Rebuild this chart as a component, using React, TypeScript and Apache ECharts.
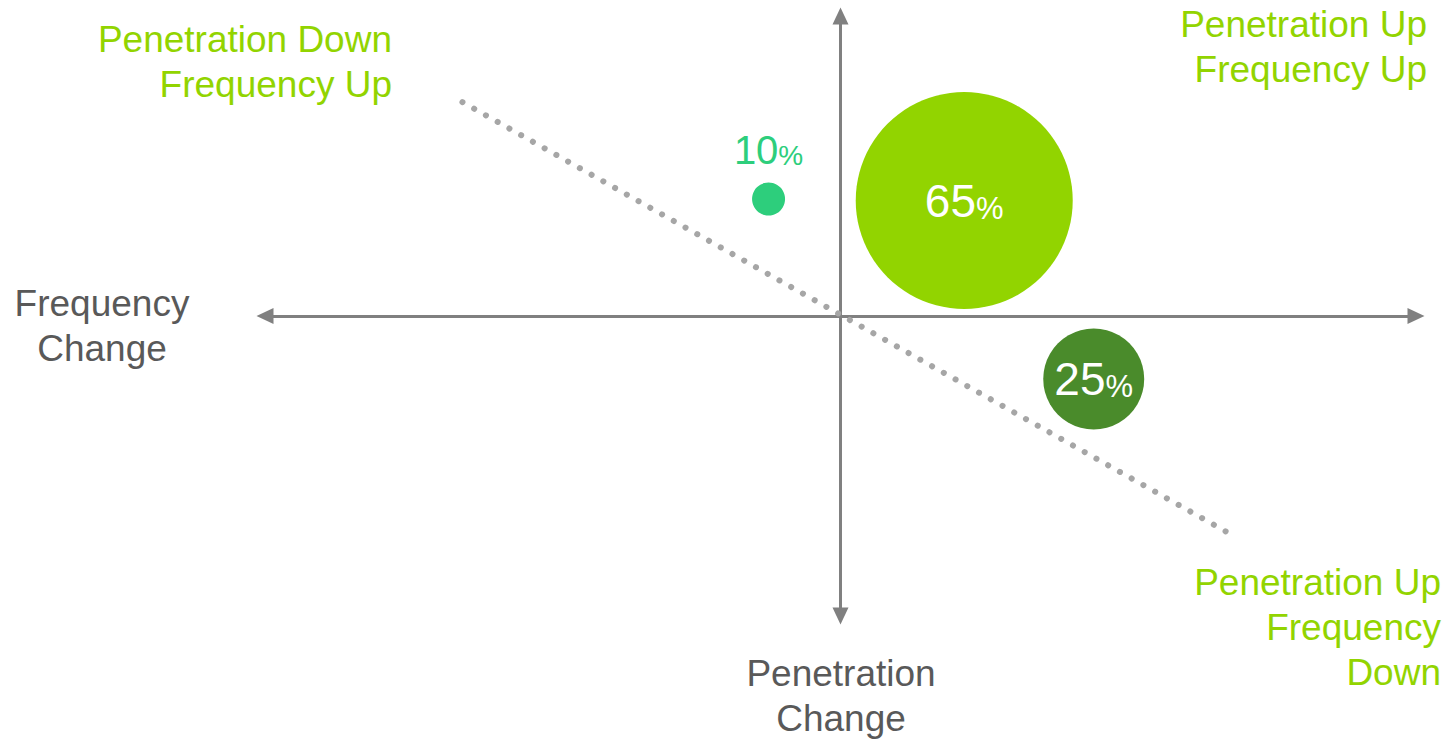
import React, { useEffect, useRef } from "react";
import * as echarts from "echarts";

// ---- data ----
const segmentNames = ["Penetration Down / Frequency Up", "Penetration Up / Frequency Up", "Penetration Up / Frequency Down"];
const frequencyChange = [-1.25, 2.15, 4.4];
const penetrationChange = [3.9, 3.85, -2.1];
const shares = [10, 65, 25];
const bubbleDiameters = [33, 217, 101];
const trendFrequency = [-6.57, 6.74];
const trendPenetration = [7.13, -7.23];

const quadrantLabels = {
  topLeft: ["Penetration Down", "Frequency Up"],
  topRight: ["Penetration Up", "Frequency Up"],
  bottomRight: ["Penetration Up", "Frequency", "Down"],
};
const xAxisTitle = ["Frequency", "Change"];
const yAxisTitle = ["Penetration", "Change"];

// ---- styles ----
const FONT = "'Liberation Sans', Arial, Helvetica, sans-serif";
const LIME = "#92d400";
const bubbleColors = ["#2dce7c", "#92d400", "#4a8b2b"];
const AXIS = "#808080";
const GRAY_TEXT = "#595959";

export default function App() {
  const ref = useRef<HTMLDivElement>(null);

  useEffect(() => {
    if (!ref.current) return;
    const chart = echarts.init(ref.current, undefined, { renderer: "svg" });

    const bubbleData = shares.map((s, i) => {
      const outside = i === 0;
      const numSize = outside ? 40 : 46;
      const pctSize = outside ? 28 : 31;
      const color = outside ? bubbleColors[0] : "#ffffff";
      return {
        name: segmentNames[i],
        value: [frequencyChange[i], penetrationChange[i], s],
        symbolSize: bubbleDiameters[i],
        itemStyle: { color: bubbleColors[i], opacity: 1 },
        label: {
          show: true,
          position: outside ? "top" : "inside",
          distance: outside ? 13 : 0,
          formatter: `{n|${s}}{p|%}`,
          rich: {
            n: {
              fontSize: numSize,
              fontFamily: FONT,
              color,
              verticalAlign: "bottom",
              lineHeight: numSize,
            },
            p: {
              fontSize: pctSize,
              fontFamily: FONT,
              color,
              verticalAlign: "bottom",
              lineHeight: numSize,
            },
          },
        },
      };
    });

    const textBlock = (
      lines: string[],
      x: number,
      y: number,
      align: "left" | "right" | "center",
      color: string
    ) => ({
      type: "text",
      x,
      y,
      silent: true,
      style: {
        text: lines.join("\n"),
        fill: color,
        font: `37px ${FONT}`,
        textAlign: align,
        textVerticalAlign: "middle",
        lineHeight: 45,
      },
    });

    chart.setOption({
      animation: false,
      grid: { left: 265, top: 16, width: 1151, height: 600, containLabel: false },
      xAxis: {
        type: "value",
        min: -10,
        max: 10,
        axisLine: {
          show: true,
          onZero: true,
          symbol: ["triangle", "triangle"],
          symbolSize: [16, 17],
          lineStyle: { color: AXIS, width: 3 },
        },
        axisTick: { show: false },
        axisLabel: { show: false },
        splitLine: { show: false },
      },
      yAxis: {
        type: "value",
        min: -10,
        max: 10,
        axisLine: {
          show: true,
          onZero: true,
          symbol: ["triangle", "triangle"],
          symbolSize: [16, 17],
          lineStyle: { color: AXIS, width: 3 },
        },
        axisTick: { show: false },
        axisLabel: { show: false },
        splitLine: { show: false },
      },
      series: [
        {
          type: "line",
          data: trendFrequency.map((x, i) => [x, trendPenetration[i]]),
          showSymbol: false,
          symbol: "none",
          silent: true,
          lineStyle: { color: "#a6a6a6", width: 6, type: [0.1, 13.37], cap: "round" },
          z: 1,
        },
        {
          type: "scatter",
          data: bubbleData,
          z: 3,
        },
      ],
      graphic: [
        textBlock(quadrantLabels.topLeft, 392, 62, "right", LIME),
        textBlock(quadrantLabels.topRight, 1427, 47, "right", LIME),
        textBlock(quadrantLabels.bottomRight, 1441, 627, "right", LIME),
        textBlock(xAxisTitle, 102, 326, "center", GRAY_TEXT),
        textBlock(yAxisTitle, 841, 696, "center", GRAY_TEXT),
      ],
    });

    return () => chart.dispose();
  }, []);

  return (
    <div
      ref={ref}
      style={{ position: "fixed", left: 0, top: 0, width: 1447, height: 741, background: "#ffffff" }}
    />
  );
}
